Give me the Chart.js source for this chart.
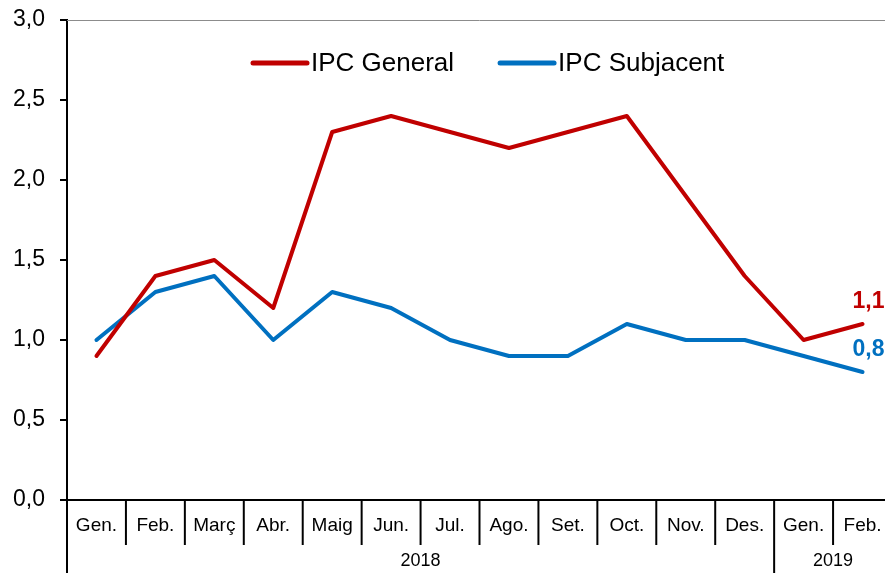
<!DOCTYPE html>
<html>
<head>
<meta charset="utf-8">
<script src="https://cdn.jsdelivr.net/npm/chart.js@4.4.1/dist/chart.umd.min.js"></script>
<style>
  html, body { margin: 0; padding: 0; background: #fff; overflow: hidden; }
  #chart { display: block; }
</style>
</head>
<body>
<canvas id="chart" width="892" height="573"></canvas>
<script>
  // months shown on the axis, and year groups (label, month count)
  var months = ["Gen.", "Feb.", "Març", "Abr.", "Maig", "Jun.", "Jul.", "Ago.", "Set.", "Oct.", "Nov.", "Des.", "Gen.", "Feb."];
  var years = ["2018", "2019"];
  var yearSpans = [12, 2];

  var ipcGeneral   = [0.9, 1.4, 1.5, 1.2, 2.3, 2.4, 2.3, 2.2, 2.3, 2.4, 1.9, 1.4, 1.0, 1.1];
  var ipcSubjacent = [1.0, 1.3, 1.4, 1.0, 1.3, 1.2, 1.0, 0.9, 0.9, 1.1, 1.0, 1.0, 0.9, 0.8];

  var RED = "#C00000";
  var BLUE = "#0070C0";
  var FONT = "Liberation Sans, Arial, sans-serif";

  function fmt(v) {
      return v.toFixed(1).replace(".", ",");
  }

  // separators, year row, top border, legend and end labels
  var extras = {
      id: "extras",
      afterDraw: function(chart) {
          var ctx = chart.ctx;
          var x = chart.scales.x;
          var area = chart.chartArea;
          var step = x.getPixelForValue(1) - x.getPixelForValue(0);
          var h = chart.height;

          ctx.save();
          // top border of plot
          ctx.strokeStyle = "#8c8c8c";
          ctx.lineWidth = 1;
          ctx.beginPath();
          ctx.moveTo(area.left, area.top + 0.5);
          ctx.lineTo(area.right, area.top + 0.5);
          ctx.stroke();

          // month separators
          ctx.strokeStyle = "#000";
          ctx.lineWidth = 2;
          var bounds = [0];
          var acc = 0;
          for (var k = 0; k < yearSpans.length; k++) { acc += yearSpans[k]; bounds.push(acc); }
          for (var i = 0; i <= months.length; i++) {
              var px = x.getPixelForValue(i) - step / 2;
              var isYear = bounds.indexOf(i) >= 0;
              ctx.beginPath();
              ctx.moveTo(px, area.bottom);
              ctx.lineTo(px, isYear ? h : area.bottom + 45);
              ctx.stroke();
          }

          // year labels
          ctx.fillStyle = "#000";
          ctx.font = "18px " + FONT;
          ctx.textAlign = "center";
          ctx.textBaseline = "middle";
          for (var j = 0; j < years.length; j++) {
              var a = x.getPixelForValue(bounds[j]) - step / 2;
              var b = x.getPixelForValue(bounds[j + 1]) - step / 2;
              ctx.fillText(years[j], (a + b) / 2, 561);
          }

          // legend
          ctx.font = "26px " + FONT;
          ctx.textAlign = "left";
          ctx.lineCap = "round";
          ctx.lineWidth = 5;
          var lx = 253;
          chart.data.datasets.forEach(function(ds) {
              ctx.strokeStyle = ds.borderColor;
              ctx.beginPath();
              ctx.moveTo(lx, 63);
              ctx.lineTo(lx + 54, 63);
              ctx.stroke();
              ctx.fillStyle = "#000";
              ctx.fillText(ds.label, lx + 58, 64);
              lx += 58 + ctx.measureText(ds.label).width + 46;
          });

          // last values
          ctx.font = "bold 23px " + FONT;
          ctx.textAlign = "center";
          chart.data.datasets.forEach(function(ds, di) {
              var meta = chart.getDatasetMeta(di);
              var pt = meta.data[meta.data.length - 1];
              ctx.fillStyle = ds.borderColor;
              ctx.fillText(fmt(ds.data[ds.data.length - 1]), pt.x + 6, pt.y - 22);
          });
          ctx.restore();
      }
  };

  new Chart("chart", {
      type: "line",
      data: {
          labels: months,
          datasets: [
              { label: "IPC General", data: ipcGeneral, borderColor: RED, backgroundColor: RED },
              { label: "IPC Subjacent", data: ipcSubjacent, borderColor: BLUE, backgroundColor: BLUE }
          ]
      },
      options: {
          responsive: false,
          animation: false,
          layout: { padding: { top: 20, left: 0, right: 0, bottom: 0 } },
          elements: {
              line: { borderWidth: 4, tension: 0, borderCapStyle: "round", borderJoinStyle: "round" },
              point: { radius: 0, hoverRadius: 0 }
          },
          plugins: {
              legend: { display: false },
              tooltip: { enabled: false }
          },
          scales: {
              x: {
                  offset: true,
                  grid: { display: false, drawTicks: false },
                  border: { display: true, color: "#000", width: 2 },
                  ticks: { color: "#000", font: { family: FONT, size: 19 }, padding: 14, maxRotation: 0, autoSkip: false },
                  afterFit: function(s) { s.height = 73; s.paddingLeft = 0; s.paddingRight = 0; }
              },
              y: {
                  min: 0,
                  max: 3,
                  ticks: { stepSize: 0.5, color: "#000", font: { family: FONT, size: 23 }, padding: 15,
                           callback: function(v) { return fmt(v); } },
                  grid: { drawOnChartArea: false, tickLength: 7, color: "#000", lineWidth: 2 },
                  border: { display: true, color: "#000", width: 2 },
                  afterFit: function(s) { s.width = 67; s.paddingTop = 0; s.paddingBottom = 0; }
              }
          }
      },
      plugins: [extras]
  });
</script>
</body>
</html>
